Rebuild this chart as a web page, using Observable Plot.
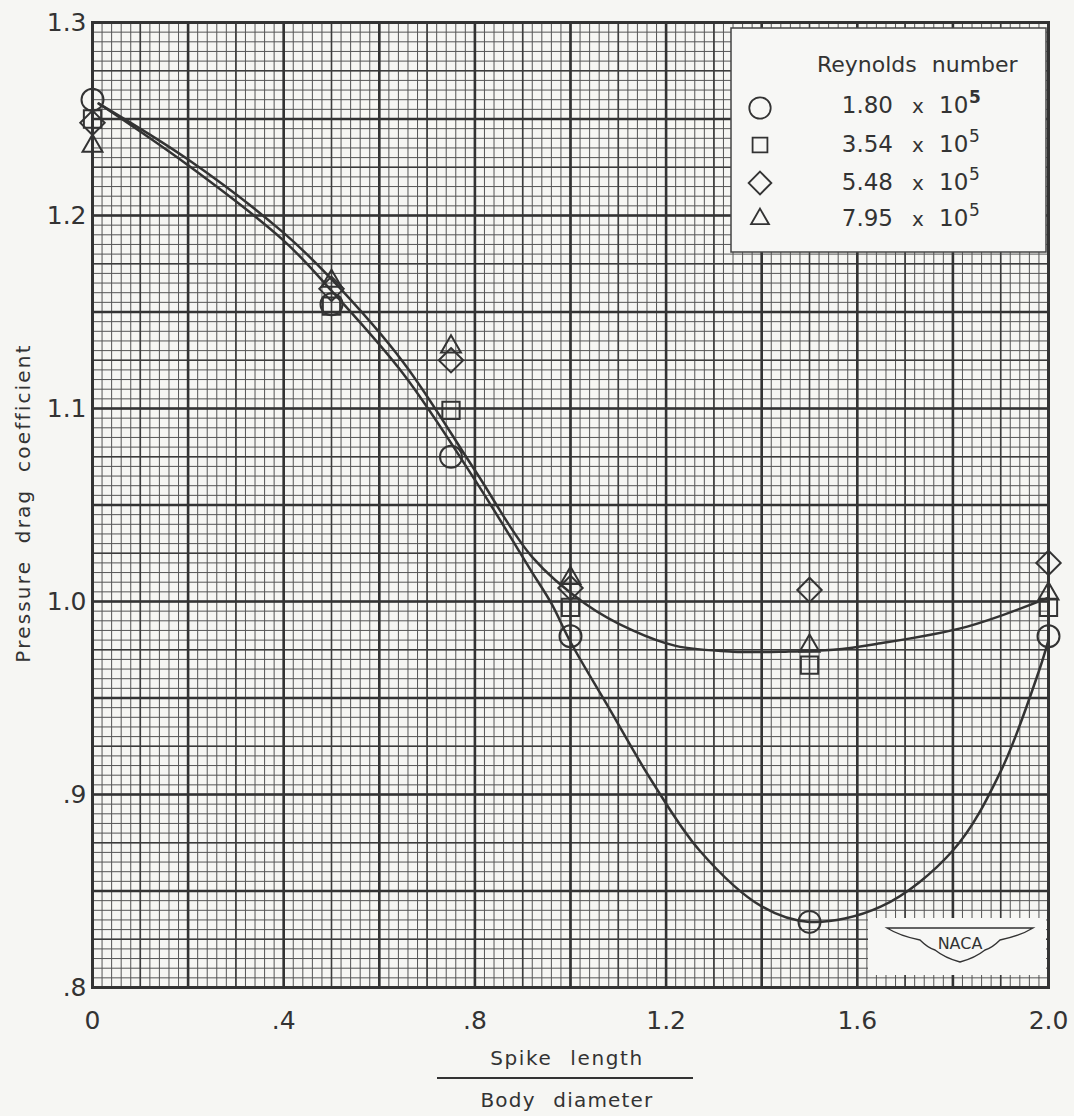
<!DOCTYPE html>
<html><head><meta charset="utf-8">
<script src="https://cdn.jsdelivr.net/npm/d3@7"></script>
<script src="https://cdn.jsdelivr.net/npm/@observablehq/plot@0.6"></script>
<style>
body{margin:0;background:#f6f6f3;}
#chart{position:relative;width:1074px;height:1116px;}
</style></head><body><div id="chart"></div>
<script>
// ---- measured data (spike length / body diameter vs pressure drag coefficient)
const spikeRatio = [0, 0.5, 0.75, 1.0, 1.5, 2.0];
const cdRe180 = [1.260, 1.154, 1.075, 0.982, 0.834, 0.982];
const cdRe354 = [1.250, 1.153, 1.099, 0.997, 0.967, 0.997];
const cdRe548 = [1.248, 1.162, 1.125, 1.007, 1.006, 1.020];
const cdRe795 = [1.236, 1.166, 1.132, 1.012, 0.977, 1.004];

// ---- faired curves
const curveLowX  = [0.013, 0.2, 0.4, 0.5, 0.65, 0.8, 0.92, 0.96, 1.0, 1.08, 1.17, 1.27, 1.4, 1.5, 1.65, 1.8, 1.9, 1.98, 2.0];
const curveLowY  = [1.258, 1.226, 1.187, 1.161, 1.118, 1.063, 1.015, 0.999, 0.979, 0.945, 0.907, 0.871, 0.842, 0.834, 0.842, 0.871, 0.912, 0.964, 0.980];
const curveHighX = [0.013, 0.2, 0.4, 0.5, 0.65, 0.8, 0.92, 1.03, 1.13, 1.22, 1.34, 1.45, 1.55, 1.64, 1.83, 2.0];
const curveHighY = [1.258, 1.229, 1.191, 1.167, 1.124, 1.068, 1.023, 0.999, 0.985, 0.977, 0.974, 0.974, 0.975, 0.978, 0.987, 1.002];

// ---- legend / ticks
const seriesLabels = ["1.80", "3.54", "5.48", "7.95"];
const seriesSymbols = ["circle", "square2", "diamond2", "triangle2"];
const xTickValues = [0, 0.4, 0.8, 1.2, 1.6, 2.0];
const xTickLabels = ["0", ".4", ".8", "1.2", "1.6", "2.0"];
const yTickValues = [0.8, 0.9, 1.0, 1.1, 1.2, 1.3];
const yTickLabels = [".8", ".9", "1.0", "1.1", "1.2", "1.3"];

const seriesValues = [cdRe180, cdRe354, cdRe548, cdRe795];
const points = seriesValues.map(vals => spikeRatio.map((x, i) => ({x, y: vals[i]})));
const lowCurve = curveLowX.map((x, i) => ({x, y: curveLowY[i]}));
const highCurve = curveHighX.map((x, i) => ({x, y: curveHighY[i]}));

// graph paper grid
const fineX = d3.range(0, 101).map(i => i * 0.02);
const medX = d3.range(0, 21).map(i => i * 0.1);
const heavyX = d3.range(0, 11).map(i => i * 0.2);
const fineY = d3.range(0, 101).map(i => 0.8 + i * 0.005);
const medY = d3.range(0, 21).map(i => 0.8 + i * 0.025);
const heavyY = d3.range(0, 11).map(i => 0.8 + i * 0.05);

const ink = "#333";
const font = "'DejaVu Sans', 'Liberation Sans', sans-serif";
const symbolR = [11, 11, 11, 9.5];

const plot = Plot.plot({
  width: 1074, height: 1116,
  marginLeft: 92, marginRight: 26, marginTop: 22, marginBottom: 129,
  x: {domain: [0, 2], axis: null},
  y: {domain: [0.8, 1.3], axis: null},
  style: {background: "#f6f6f3", fontFamily: font, fontSize: "25px", color: ink},
  marks: [
    Plot.ruleX(fineX, {stroke: "#555", strokeWidth: 1}),
    Plot.ruleY(fineY, {stroke: "#555", strokeWidth: 1}),
    Plot.ruleX(medX, {stroke: "#3c3c3c", strokeWidth: 1.6}),
    Plot.ruleY(medY, {stroke: "#3c3c3c", strokeWidth: 1.6}),
    Plot.ruleX(heavyX, {stroke: "#333", strokeWidth: 2.6}),
    Plot.ruleY(heavyY, {stroke: "#333", strokeWidth: 2.6}),
    Plot.frame({stroke: "#333", strokeWidth: 3}),
    Plot.line(lowCurve, {x: "x", y: "y", curve: "catmull-rom", stroke: ink, strokeWidth: 2.5}),
    Plot.line(highCurve, {x: "x", y: "y", curve: "catmull-rom", stroke: ink, strokeWidth: 2.5}),
    ...points.map((pts, k) => Plot.dot(pts, {x: "x", y: "y", symbol: seriesSymbols[k], r: symbolR[k], stroke: ink, strokeWidth: 2, fill: "none"})),
    Plot.axisX(xTickValues, {tickSize: 0, tickPadding: 24, tickFormat: d => xTickLabels[xTickValues.indexOf(d)], label: null, fontSize: 25, fill: ink}),
    Plot.axisY(yTickValues, {tickSize: 0, tickPadding: 6, tickFormat: d => yTickLabels[yTickValues.indexOf(d)], label: null, fontSize: 25, fill: ink})
  ]
});
document.getElementById("chart").appendChild(plot);

const svg = d3.select(plot);
// y axis title
svg.append("text").attr("transform", "translate(23,503) rotate(-90)")
  .attr("text-anchor", "middle").attr("dominant-baseline", "central")
  .attr("font-size", 20).attr("letter-spacing", 2.2).attr("word-spacing", 8).attr("fill", ink)
  .text("Pressure drag coefficient");
// x axis title (fraction)
svg.append("text").attr("x", 567).attr("y", 1065).attr("text-anchor", "middle")
  .attr("font-size", 20).attr("letter-spacing", 1.6).attr("word-spacing", 10).attr("fill", ink).text("Spike length");
svg.append("line").attr("x1", 437).attr("x2", 693).attr("y1", 1078).attr("y2", 1078)
  .attr("stroke", ink).attr("stroke-width", 2);
svg.append("text").attr("x", 567).attr("y", 1107).attr("text-anchor", "middle")
  .attr("font-size", 20).attr("letter-spacing", 1.2).attr("word-spacing", 10).attr("fill", ink).text("Body diameter");

// legend box
const lg = svg.append("g");
lg.append("rect").attr("x", 731).attr("y", 28).attr("width", 315).attr("height", 224)
  .attr("fill", "#f7f7f5").attr("stroke", "#444").attr("stroke-width", 1.5);
lg.append("text").attr("x", 817).attr("y", 72).attr("text-anchor", "start").attr("font-size", 22).attr("word-spacing", 8).attr("fill", ink)
  .text("Reynolds number");
const symMap = {circle: d3.symbolCircle, square2: d3.symbolSquare2, diamond2: d3.symbolDiamond2, triangle2: d3.symbolTriangle2};
const legSize = [360, 280, 330, 230];
const rowSym = [108, 145, 183, 219];
const rowBase = [113, 152, 190, 226];
seriesLabels.forEach((lab, k) => {
  lg.append("path").attr("transform", `translate(760,${rowSym[k]})`)
    .attr("d", d3.symbol(symMap[seriesSymbols[k]], legSize[k])())
    .attr("fill", "none").attr("stroke", ink).attr("stroke-width", 1.8);
  lg.append("text").attr("x", 893).attr("y", rowBase[k]).attr("text-anchor", "end").attr("font-size", 23).attr("fill", ink).text(lab);
  lg.append("text").attr("x", 918).attr("y", rowBase[k]).attr("text-anchor", "middle").attr("font-size", 20).attr("fill", ink).text("x");
  lg.append("text").attr("x", 939).attr("y", rowBase[k]).attr("text-anchor", "start").attr("font-size", 23).attr("fill", ink).text("10");
  lg.append("text").attr("x", 969).attr("y", rowBase[k] - 10).attr("text-anchor", "start").attr("font-size", 17).attr("fill", ink)
    .attr("font-weight", k === 0 ? "bold" : "normal").text("5");
});

// NACA logo panel
const nl = svg.append("g");
nl.append("rect").attr("x", 868).attr("y", 918).attr("width", 178).attr("height", 57).attr("fill", "#f7f7f5");
nl.append("path")
  .attr("d", "M887,928 L1033,928 Q1020,936 1000,940 Q992,948 985,950 Q975,958 960,962 Q945,958 935,950 Q928,948 920,940 Q900,936 887,928 Z")
  .attr("fill", "none").attr("stroke", ink).attr("stroke-width", 1.4);
nl.append("text").attr("x", 960).attr("y", 949).attr("text-anchor", "middle").attr("font-size", 16).attr("fill", ink).text("NACA");
</script></body></html>
